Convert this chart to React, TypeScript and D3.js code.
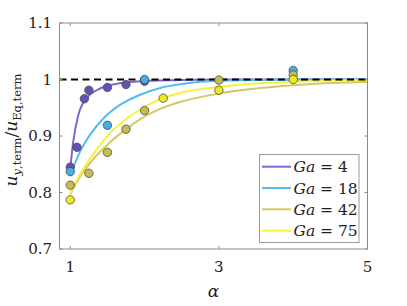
import React from 'react';
import * as d3 from 'd3';

// данные
const seriesNames = ['Ga = 4', 'Ga = 18', 'Ga = 42', 'Ga = 75'];
const gaValues = ['4', '18', '42', '75'];
const lineColors = ['#7b68d2', '#55bdef', '#d2c964', '#f5f23a'];
const dotColors = ['#6350b8', '#45aee3', '#c6bd4c', '#eeea22'];

// точки эксперимента
const ptsAlpha4 = [1, 1.09, 1.19, 1.25, 1.5, 1.75, 2];
const ptsVal4 = [0.845, 0.88, 0.966, 0.981, 0.986, 0.991, 0.997];
const ptsAlpha18 = [1, 1.5, 2, 4];
const ptsVal18 = [0.837, 0.919, 1.0, 1.016];
const ptsAlpha42 = [1, 1.25, 1.5, 1.75, 2, 3, 4];
const ptsVal42 = [0.813, 0.834, 0.871, 0.912, 0.945, 0.999, 1.008];
const ptsAlpha75 = [1, 2.25, 3, 4];
const ptsVal75 = [0.787, 0.967, 0.981, 1.0];

// аппроксимирующие кривые
const fitAlpha4 = [1, 1.04, 1.108, 1.22, 1.356, 1.535, 1.76, 2.07, 2.5, 3, 4, 5];
const fitVal4 = [0.843, 0.89, 0.937, 0.967, 0.981, 0.99, 0.995, 0.998, 0.999, 1, 1, 1];
const fitAlpha18 = [1, 1.13, 1.265, 1.445, 1.67, 1.94, 2.21, 2.5, 2.75, 3, 3.5, 4, 5];
const fitVal18 = [0.83, 0.872, 0.902, 0.931, 0.955, 0.973, 0.985, 0.992, 0.996, 0.998, 0.999, 1, 1];
const fitAlpha42 = [1, 1.13, 1.31, 1.535, 1.76, 1.98, 2.21, 2.5, 3, 3.5, 4, 5];
const fitVal42 = [0.797, 0.828, 0.859, 0.889, 0.913, 0.933, 0.948, 0.961, 0.975, 0.984, 0.99, 0.996];
const fitAlpha75 = [1, 1.13, 1.31, 1.535, 1.76, 1.98, 2.21, 2.5, 3, 3.5, 4, 5];
const fitVal75 = [0.799, 0.832, 0.868, 0.905, 0.931, 0.95, 0.965, 0.977, 0.987, 0.993, 0.996, 0.999];

const xTicks = [1, 3, 5];
const yTicks = [0.7, 0.8, 0.9, 1, 1.1];
const yTickLabels = ['0.7', '0.8', '0.9', '1', '1.1'];

const zip = (a: number[], b: number[]) => a.map((x, i) => ({ x, y: b[i] }));

const points = [
  zip(ptsAlpha4, ptsVal4),
  zip(ptsAlpha18, ptsVal18),
  zip(ptsAlpha42, ptsVal42),
  zip(ptsAlpha75, ptsVal75),
];
const fits = [
  zip(fitAlpha4, fitVal4),
  zip(fitAlpha18, fitVal18),
  zip(fitAlpha42, fitVal42),
  zip(fitAlpha75, fitVal75),
];

const W = 407;
const H = 306;
const left = 59.5;
const right = 367.5;
const top = 23;
const bottom = 249;

const serif = 'DejaVu Serif, Liberation Serif, serif';

export default function App() {
  const x = d3.scaleLinear().domain([0.855, 5]).range([left, right]);
  const y = d3.scaleLinear().domain([0.7, 1.1]).range([bottom, top]);

  const line = d3
    .line<{ x: number; y: number }>()
    .x((d) => x(d.x))
    .y((d) => y(d.y))
    .curve(d3.curveMonotoneX);

  const axisColor = '#8a8a8a';
  const legX = 259.5;
  const legY = 154.5;
  const legRow = 21.3;

  return (
    <svg
      width={W}
      height={H}
      fontFamily={serif}
      style={{ position: 'absolute', left: 0, top: 0, background: '#fff' }}
    >
      <defs>
        <clipPath id="plotClip">
          <rect x={left} y={top} width={right - left} height={bottom - top} />
        </clipPath>
      </defs>

      {/* кривые */}
      <g clipPath="url(#plotClip)">
        {fits.map((f, i) => (
          <path key={i} d={line(f) || ''} fill="none" stroke={lineColors[i]} strokeWidth={2} />
        ))}
        {/* линия 1 */}
        <line
          x1={left}
          x2={right}
          y1={y(1)}
          y2={y(1)}
          stroke="#000"
          strokeWidth={2}
          strokeDasharray="7,4.5"
        />
        {points.map((p, i) =>
          p.map((d, j) => (
            <circle
              key={i + '-' + j}
              cx={x(d.x)}
              cy={y(d.y)}
              r={4.2}
              fill={dotColors[i]}
              stroke="#4a4a4a"
              strokeWidth={0.8}
            />
          ))
        )}
      </g>

      {/* оси */}
      <rect
        x={left}
        y={top}
        width={right - left}
        height={bottom - top}
        fill="none"
        stroke={axisColor}
        strokeWidth={1}
      />
      {xTicks.map((t) => (
        <g key={'x' + t}>
          <line x1={x(t)} x2={x(t)} y1={bottom} y2={bottom - 3} stroke={axisColor} />
          <line x1={x(t)} x2={x(t)} y1={top} y2={top + 3} stroke={axisColor} />
          <text x={x(t)} y={272} textAnchor="middle" fontSize={15} fill="#222">
            {t}
          </text>
        </g>
      ))}
      {yTicks.map((t, i) => (
        <g key={'y' + t}>
          <line x1={left} x2={left + 3} y1={y(t)} y2={y(t)} stroke={axisColor} />
          <line x1={right} x2={right - 3} y1={y(t)} y2={y(t)} stroke={axisColor} />
          <text x={52} y={y(t) + 5} textAnchor="end" fontSize={15} fill="#222">
            {yTickLabels[i]}
          </text>
        </g>
      ))}

      {/* подписи осей */}
      <text x={(left + right) / 2} y={297} textAnchor="middle" fontSize={17} fontStyle="italic" fill="#222">
        α
      </text>
      <text transform="translate(17,130) rotate(-90)" textAnchor="middle" fontSize={17} fill="#222">
        <tspan fontStyle="italic">u</tspan>
        <tspan fontSize={11.5} dy={4} fontStyle="italic">y</tspan>
        <tspan fontSize={11.5}>,term</tspan>
        <tspan dy={-4}>/</tspan>
        <tspan fontStyle="italic">u</tspan>
        <tspan fontSize={11.5} dy={4}>Eq,term</tspan>
      </text>

      {/* легенда */}
      <rect x={legX} y={legY} width={99.5} height={88} fill="#fff" stroke="#9a9a9a" strokeWidth={1} />
      {seriesNames.map((name, i) => {
        const ly = legY + 12.2 + i * legRow;
        return (
          <g key={name}>
            <line x1={262} x2={291} y1={ly} y2={ly} stroke={lineColors[i]} strokeWidth={2} />
            <text x={293.5} y={ly + 5.5} fontSize={15.5} fill="#222">
              <tspan fontStyle="italic">Ga</tspan>
              <tspan> = {gaValues[i]}</tspan>
            </text>
          </g>
        );
      })}
    </svg>
  );
}
